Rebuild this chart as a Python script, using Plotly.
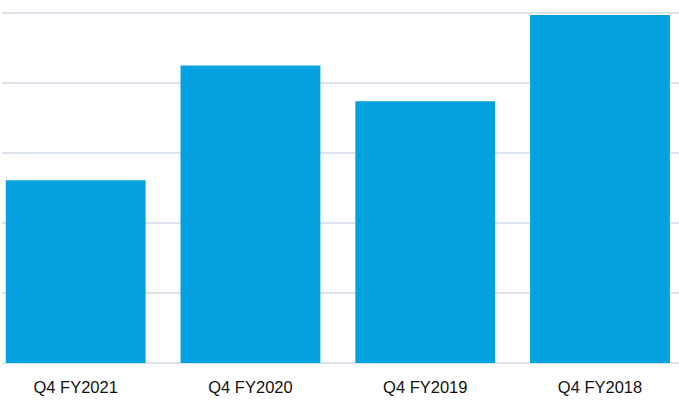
import plotly.graph_objects as go

categories = ["Q4 FY2021", "Q4 FY2020", "Q4 FY2019", "Q4 FY2018"]
values = [2.61, 4.25, 3.74, 4.97]

BAR_COLOR = "#03a1e0"
GRID_COLOR = "#dbe2ea"

fig = go.Figure(
    go.Bar(
        x=categories,
        y=values,
        marker=dict(color=BAR_COLOR, line=dict(width=0)),
        width=0.8,
    )
)

fig.update_layout(
    width=679,
    height=403,
    margin=dict(l=2, r=0, t=6, b=40, pad=0),
    paper_bgcolor="white",
    plot_bgcolor="white",
    showlegend=False,
    font=dict(family="Liberation Sans, Arial, sans-serif", size=16.5, color="#111111"),
)
fig.update_xaxes(
    range=[-0.4216, 3.452],
    showgrid=False,
    showline=False,
    ticks="",
    ticklabelstandoff=12,
    tickfont=dict(size=16.5, color="#111111"),
)
fig.update_yaxes(
    range=[0, 5.1],
    dtick=1,
    showticklabels=False,
    gridcolor=GRID_COLOR,
    gridwidth=1.5,
    zeroline=True,
    zerolinecolor=GRID_COLOR,
    zerolinewidth=1.5,
    showline=False,
    ticks="",
)

fig.write_html(
    "out.html",
    config={"displayModeBar": False},
    post_script="document.body.style.margin='0';document.body.style.overflow='hidden';",
)
